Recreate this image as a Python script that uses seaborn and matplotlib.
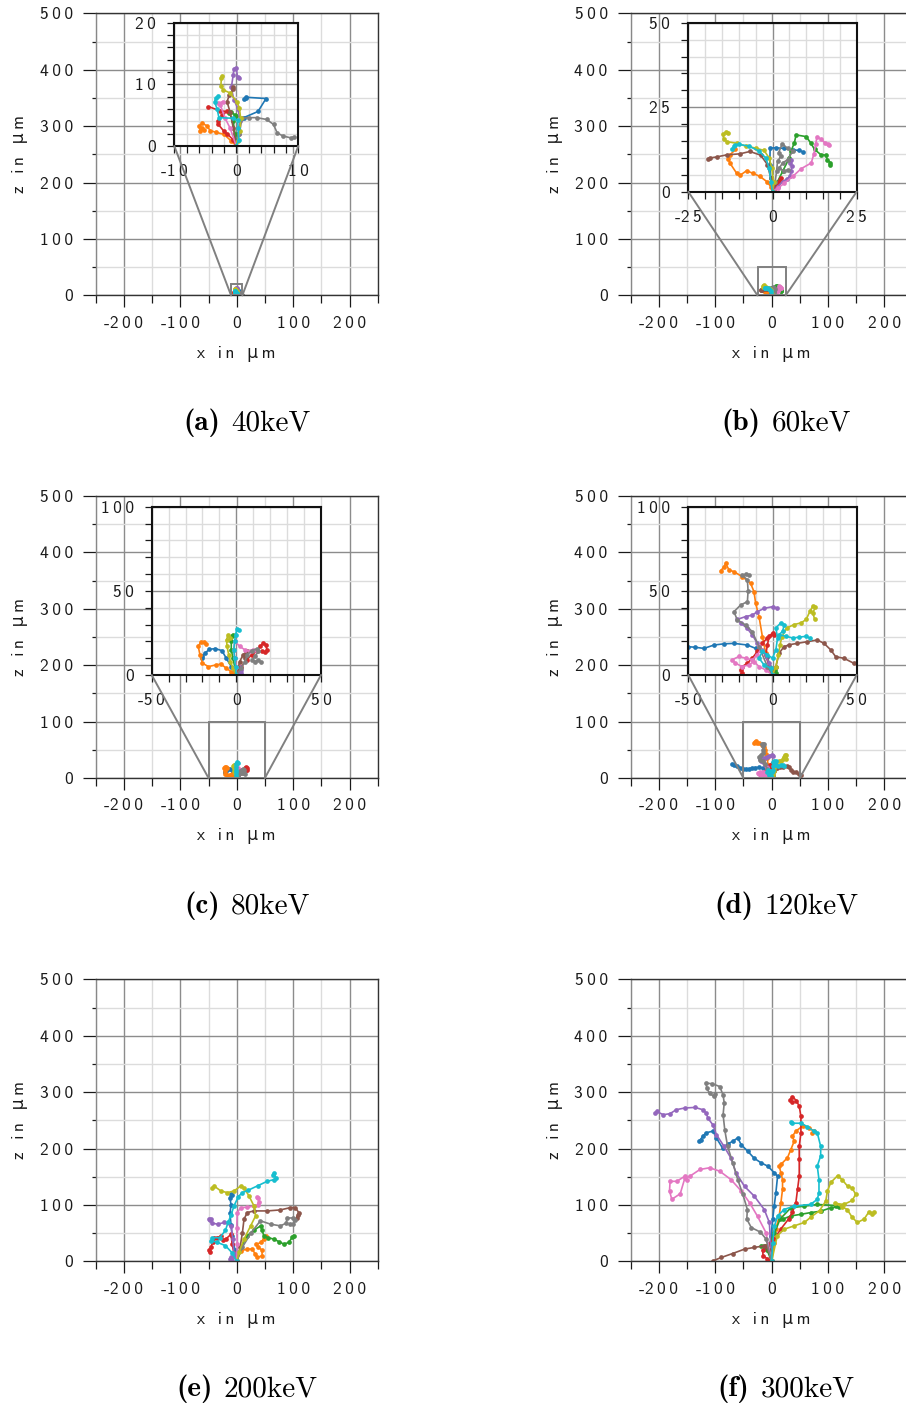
import pandas as pd
import seaborn as sns
import matplotlib.pyplot as plt
from matplotlib.patches import Rectangle, ConnectionPatch
from matplotlib.ticker import MultipleLocator, FuncFormatter
from matplotlib.offsetbox import TextArea, HPacker, AnnotationBbox

# track order = tab10 order: blue, orange, green, red, purple, brown, pink, gray, olive, cyan
track_names = ['blue', 'orange', 'green', 'red', 'purple', 'brown', 'pink', 'gray', 'olive', 'cyan']

tracks_40 = [
    [(0, 0), (0.3, 2), (0.8, 4.3), (1.2, 4.6), (3.5, 5.6), (4.8, 7.7), (1.6, 7.9), (1.3, 7.6), (1.5, 7.8)],
    [(0, 0), (-0.8, 0.8), (-2.0, 1.9), (-3.2, 2.2), (-4.2, 2.5), (-4.8, 3.3), (-5.5, 3.7), (-6.0, 3.2), (-5.8, 2.5), (-5.2, 2.6), (-5.6, 3.0)],
    [(0, 0), (-0.2, 2), (-0.5, 4), (-1.1, 5.3), (-0.8, 5.5), (-0.2, 5.0), (0, 4.8)],
    [(0, 0), (-0.5, 1), (-1.5, 2), (-2.0, 2.4), (-2.9, 3.5), (-3.0, 4.0), (-2.3, 5.0), (-1.5, 5.6), (-2.6, 5.7), (-4.5, 6.4)],
    [(0, 0), (0.4, 2), (0.6, 4), (0.3, 6), (-0.4, 7.5), (-0.8, 9.5), (-0.5, 11.5), (-0.4, 12.5), (0, 12.7), (0.2, 11.2), (0.4, 11.0)],
    [(0, 0), (-0.5, 3), (-1, 5.5), (-1.5, 7.2), (-1.1, 8.3), (-0.5, 9.2), (-0.6, 9.5)],
    [(0, 0), (-1, 2.9), (-1.8, 4.5), (-2.6, 6.7), (-2.1, 7.2), (-2.9, 7.0)],
    [(0, 0), (0.5, 2), (0.9, 4.5), (2, 4.6), (3.3, 4.6), (4.9, 4.3), (6.0, 3.5), (6.6, 2.1), (7.6, 1.6), (8.9, 1.3), (9.3, 1.5)],
    [(0, 0), (0.2, 0.8), (0.6, 2.4), (0.7, 4.5), (0.5, 6.2), (0.05, 7.2), (-1.0, 8.6), (-2.1, 9.1), (-2.5, 9.7), (-2.4, 11.0), (-2.3, 11.4)],
    [(0, 0), (0.4, 1), (0.3, 3), (0.2, 4.2), (-0.6, 4.5), (-2.8, 4.6), (-3.1, 6), (-3.5, 7.2), (-3.3, 7.8), (-3.0, 8.1)],
]

tracks_60 = [
    [(0, 0), (-0.5, 4), (-0.8, 8), (-0.7, 12.9), (1, 13), (3.5, 12.8), (6, 12.4), (8, 12.2), (9, 11.8)],
    [(0, 0), (-0.5, 1.5), (-1.7, 3), (-3.7, 4.5), (-5.7, 5.4), (-7.7, 6.2), (-9.7, 4.8), (-10.6, 5.4), (-12.6, 8.4), (-13.1, 9.6), (-12.5, 11), (-11, 12.5)],
    [(0, 0), (1.5, 3), (3, 6), (5, 10), (5.5, 12), (6.5, 14.5), (7, 16.8), (10, 16.3), (11.3, 14.5), (12.5, 12.5), (14.3, 11), (15.8, 10.8), (16.3, 9.5), (17.2, 8.5), (17, 8)],
    [(0, 0), (0.8, 1.2), (1.5, 2.5), (2.2, 3.4), (2.5, 4.0)],
    [(0, 0), (1.5, 1.5), (3, 3), (4.3, 3.8), (5.2, 4.5), (5.5, 6), (5.7, 7.5), (5.3, 8.5), (5.5, 9.5)],
    [(0, 0), (-0.5, 4), (-1.5, 8), (-3.5, 10.8), (-6.7, 11.9), (-9.7, 11.2), (-13.6, 10.9), (-16.5, 10.3), (-18.5, 10), (-19.2, 9.6)],
    [(0, 0), (1.5, 1), (3.5, 2.5), (6, 4.5), (8.5, 6.8), (11.5, 8.5), (12.3, 11.2), (12.8, 14), (13.2, 16.2), (14.5, 15.5), (15.5, 14.5), (16.5, 14), (16.8, 13.7)],
    [(0, 0), (0.8, 3), (1.2, 6), (1.5, 9), (2.5, 10.5), (1.8, 11.5), (2.9, 14.2), (4.5, 12.8), (6, 12), (4.5, 9.5), (3, 8.5), (2, 7), (3.5, 6), (4.5, 6.5)],
    [(0, 0), (0.3, 3), (-0.2, 7), (-1, 10), (-2.5, 12.2), (-5, 12.9), (-8, 13.5), (-10.5, 14.3), (-13.5, 14.8), (-14.5, 15.5), (-14.6, 17), (-13.8, 17.7), (-13.2, 17.5)],
    [(0, 0), (-0.5, 3), (-1, 7), (-2, 10), (-4, 12), (-7, 13.5), (-10, 14), (-11.5, 13.5), (-12, 12.5), (-11, 13.8)],
]

tracks_80 = [
    [(0, 0), (-3, 5), (-6, 10), (-8.5, 14.5), (-12.6, 15.7), (-16, 15.2), (-18.5, 13), (-20.2, 11), (-20.5, 10)],
    [(0, 0), (-3, 2), (-6, 4), (-9, 6.5), (-12, 6), (-16.5, 5), (-20, 7), (-21.5, 12), (-22.5, 17), (-21, 19.5), (-19, 19.5), (-18, 18.3)],
    [(0, 0), (-1, 5), (-2, 10), (-3, 15), (-3, 20), (-2.5, 23), (-2, 24)],
    [(0, 0), (3, 5), (6, 9), (9, 12), (12, 14), (14, 17), (16, 19), (17.5, 18), (18, 15), (17, 13.5), (15, 14)],
    [(0, 0), (1.5, 2), (2.5, 1), (3, 3), (2, 5)],
    [(0, 0), (1, 4), (2, 8), (4, 12), (6, 14), (5, 10)],
    [(0, 0), (0, 5), (-1, 10), (-1.5, 15), (-1, 20), (2, 17), (5, 15), (8, 14), (10, 15), (12, 14.5)],
    [(0, 0), (3, 4), (5, 8), (6.5, 12), (9, 14.5), (12, 15.5), (13, 14), (11, 11), (9.5, 9), (11, 8), (13, 9), (14.5, 7.5)],
    [(0, 0), (-2, 4), (-3.5, 8), (-4.5, 12), (-5.5, 17), (-5.8, 21), (-5, 23.5), (-3.5, 22)],
    [(0, 0), (-0.5, 5), (-1, 10), (-1.5, 15), (-1, 20), (-0.5, 24), (0.5, 27.5), (1.5, 26.5)],
]

tracks_120 = [
    [(0, 0), (-1.5, 5), (-3, 10.9), (-6, 14), (-10, 15.8), (-14.9, 17.8), (-22.9, 18.8), (-29, 18.5), (-34.8, 17.8), (-40.7, 15.8), (-46, 16.5), (-50, 16.8), (-56, 17.5), (-62, 20.5), (-67, 23), (-70, 24)],
    [(0, 0), (-1.1, 3), (-4, 12.9), (-6, 22.8), (-8, 34.7), (-10, 42.6), (-11, 49.5), (-13, 54.5), (-17.9, 58.4), (-22.9, 61.4), (-25.8, 62.4), (-27.8, 66.3), (-29, 64), (-30.8, 61.9)],
    [(0, 0), (1, 2), (2, 1), (1.5, 3)],
    [(0, 0), (-2, 5), (-4, 12), (-3, 18), (-2, 23), (0, 25), (1, 24), (-3, 22), (-6, 19), (-9, 14), (-12, 10), (-15, 7), (-18, 5), (-19, 3), (-18, 1), (-19, 0)],
    [(0, 0), (-2, 6.9), (-6, 14.9), (-9, 18.8), (-12, 23.8), (-15, 27.7), (-19, 31), (-21, 33), (-16, 34.7), (-12, 35.6), (-9, 37.6), (-5, 39.6), (0, 40.6), (2.9, 39.6)],
    [(0, 0), (2, 5), (3.9, 12.9), (6.8, 16.8), (10, 18), (14.8, 18.8), (20.7, 19.8), (26.6, 20.8), (30.6, 18.8), (34.6, 14.9), (37.5, 10.9), (42.5, 9.9), (48.4, 6.9), (52, 5.5)],
    [(0, 0), (-4, 3), (-8, 5), (-11, 8), (-14, 6), (-18, 5), (-22, 7), (-24, 9), (-20, 11), (-16, 10), (-12, 9), (-9, 12), (-7, 15), (-8, 17)],
    [(0, 0), (-3, 5), (-8, 16.8), (-12, 25.7), (-15.9, 29.7), (-20.9, 32.7), (-22.9, 37.6), (-18.9, 41.6), (-14.9, 43.6), (-14.5, 50), (-14.9, 56.4), (-17.9, 59.4), (-16, 59.8), (-14, 59.4)],
    [(0, 0), (2, 5), (3.5, 12), (4.5, 18), (5.5, 22.5), (8.4, 28), (13, 30), (17, 31), (20, 33), (22.3, 38), (24, 41), (25.5, 40.5), (24, 37), (25, 33)],
    [(0, 0), (-1, 4), (-5, 6), (-8, 10), (-6, 14), (-3, 12), (0, 10), (2, 15), (3, 22), (2, 28), (5, 31), (7, 30), (6, 26), (4, 24), (8, 23), (12, 22), (16, 22.5), (20, 23), (22, 22)],
]

tracks_200 = [
    [(0, 0), (-3, 20), (-8, 45), (-10, 65), (-12, 85), (-10, 100), (-12, 113), (-10, 119), (-8, 118)],
    [(0, 0), (7, 18.8), (18.8, 21.8), (28, 22), (32, 14), (36.5, 7), (45, 10), (45, 20), (38, 25), (35, 30), (42.4, 33.6), (48, 40), (51.2, 45.3)],
    [(0, 0), (8, 25), (18, 45), (30, 55), (42.4, 63), (45, 55), (48.2, 45.3), (56, 42), (65.9, 39.5), (75, 35), (83.5, 30.6), (92.4, 33.6), (98.2, 42.4), (101, 45.3)],
    [(0, 0), (-5, 15), (-8, 30), (-10, 48), (-19, 40), (-24, 38), (-28, 45), (-35, 42), (-40, 42), (-42, 35), (-46, 25), (-49, 20), (-47, 17)],
    [(0, 0), (-4, 10), (-10, 8), (-12, 5), (-8, 2), (-5, 15), (-7, 40), (-10, 63), (-22, 69), (-34, 66), (-44, 68), (-48, 73), (-49, 76), (-46, 76)],
    [(0, 0), (6, 25), (10, 50), (13, 75), (18.8, 86.6), (30.6, 89.5), (54, 89.5), (77.6, 91.3), (95.3, 95.4), (104, 95.4), (110, 86.6), (107, 77.7), (108, 82)],
    [(0, 0), (1, 30), (0, 60), (1, 86.6), (7, 95.4), (18.8, 96), (30.6, 98), (37, 100), (39.4, 106), (38, 113), (36, 114)],
    [(0, 0), (10, 25), (25, 50), (42, 72), (60, 66), (77.6, 63), (88, 68), (89, 77), (100, 77), (104, 73), (100, 66), (95, 67)],
    [(0, 0), (4, 16), (13, 39.5), (24.7, 63), (33.5, 80.7), (30.6, 98.3), (21.8, 116), (12.9, 130.7), (7, 133.7), (-4.7, 124.9), (-16.5, 121.9), (-28.2, 124.9), (-40, 133.7), (-43, 131)],
    [(0, 0), (-8, 15), (-20, 28), (-35, 34), (-45, 37), (-44, 42), (-30, 42), (-20, 55), (-15, 70), (-10, 82), (-5, 98), (3, 115), (10, 122), (20, 126), (37, 134), (54, 142), (66, 145), (69, 148), (66, 157), (65, 153)],
]

tracks_300 = [
    [(0, 0), (-1, 45), (2, 75), (4.6, 98), (7.6, 122), (10.6, 151), (5, 157), (-7, 169), (-19, 175), (-31, 183), (-42, 195), (-54, 207), (-60, 219), (-69, 213), (-78, 208), (-87, 201), (-98, 219), (-104, 231), (-116, 228), (-122, 222), (-128, 213), (-126, 215)],
    [(0, 0), (4.6, 33.5), (7.6, 57), (13.5, 80.6), (16.5, 104), (19.4, 128), (19.4, 145), (16.5, 157), (13.5, 169), (16.5, 172), (28, 183.5), (34, 198), (40, 213), (37, 222), (43, 231), (55, 240), (66, 236), (76, 231), (72, 228)],
    [(0, 0), (-8, 20), (-18, 28), (-5, 30), (5, 50), (15, 75), (34, 95), (58, 98), (81, 101), (114, 99), (120, 97), (105, 95), (87, 89), (69, 86.5), (52, 83.5), (34, 80.6), (20, 75)],
    [(0, 0), (-8, 5), (-15, 10), (-16, 20), (-8, 28), (5, 40), (16, 57), (30, 75), (37, 87), (43, 104), (46, 128), (49, 151), (49, 181), (49, 204), (52, 228), (52, 257), (49, 275), (44, 285), (37, 292), (33, 287), (36, 283)],
    [(0, 0), (-4, 69), (-13, 92), (-31, 116), (-48, 133), (-63, 157), (-72, 183), (-85, 205), (-98, 225), (-104, 242), (-113, 254), (-116, 263), (-122, 269), (-136, 273), (-154, 272), (-169, 269), (-180, 262), (-192, 260), (-204, 266), (-206, 264)],
    [(0, 0), (-5, 20), (-13, 27.6), (-31, 24.7), (-48, 21.8), (-69, 14), (-89, 7), (-104, 1)],
    [(0, 0), (-10, 51), (-25, 80), (-39, 104), (-54, 125), (-72, 145), (-92, 160), (-110, 166), (-127, 163), (-145, 151), (-154, 147), (-162, 120), (-177, 110), (-181, 125), (-180, 142), (-168, 142), (-154, 151), (-150, 145)],
    [(0, 0), (-10, 40), (-20, 52), (-36, 60), (-44, 75), (-43, 92), (-51, 119), (-60, 145), (-69, 175), (-78, 204), (-83, 233), (-86, 260), (-84, 281), (-86, 295), (-92, 310), (-105, 315), (-116, 316), (-115, 307), (-110, 298), (-103, 293), (-100, 296)],
    [(0, 0), (10, 45), (22, 57), (40, 63), (58, 69), (69, 78), (85, 90), (96, 107), (99, 125), (105, 140), (117, 152), (125, 145), (135, 133), (143, 130), (149, 119), (143, 108), (128, 101), (112, 103), (125, 97), (134, 92), (143, 78), (152, 69), (164, 75), (172, 87), (181, 87), (178, 84)],
    [(0, 0), (2, 33), (5, 63), (11, 81), (22, 92), (40, 98), (69, 101), (81, 110), (84, 122), (84, 145), (81, 169), (87, 187), (87, 204), (81, 228), (75, 231), (63, 239), (52, 245), (37, 245), (35, 247)],
]

panel_letters = ['a', 'b', 'c', 'd', 'e', 'f']
energies = ['40keV', '60keV', '80keV', '120keV', '200keV', '300keV']
zoom_half = [10, 25, 50, 50, None, None]   # inset half width (µm), None = no inset

sns.set_theme(style='ticks')
plt.rcParams['font.family'] = ['DejaVu Sans']
plt.rcParams['axes.unicode_minus'] = False

# Computer Modern Sans for digits/letters, DejaVu for the greek mu and thin spaces
SANS = ['cmss10', 'DejaVu Sans']
FS = 12.5
W, H = 906, 1409
fig = plt.figure(figsize=(W / 100, H / 100), dpi=100)
palette = sns.color_palette('tab10', 10)

MAJ = '#8c8c8c'
MIN = '#dcdcdc'
INK = '#1a1a1a'


def box(left, top, w, h):
    return [left / W, 1 - (top + h) / H, w / W, h / H]


def spaced(text):
    # letter-spaced like the original labels, hyphen kept close to the digits
    out = text[0]
    for prev, ch in zip(text, text[1:]):
        out += ch if prev == '-' else '\u2009' + ch
    return out


def tick_fmt(v, pos):
    if abs(v) < 1e-9:
        v = 0
    return spaced(f'{v:g}')


def style_ticks(a):
    for lab in a.get_xticklabels() + a.get_yticklabels():
        lab.set_family(SANS)
        lab.set_fontsize(FS)


def draw_tracks(ax, tracks):
    rows = []
    for name, tr in zip(track_names, tracks):
        for step, (x, z) in enumerate(tr):
            rows.append((name, step, x, z))
    df = pd.DataFrame(rows, columns=['track', 'step', 'x', 'z'])
    sns.lineplot(data=df, x='x', y='z', hue='track', hue_order=track_names,
                 palette=palette, sort=False, estimator=None, marker='o',
                 markersize=3.4, markeredgewidth=0, linewidth=1.2,
                 legend=False, ax=ax)
    ax.set_xlabel('')
    ax.set_ylabel('')


all_tracks = [tracks_40, tracks_60, tracks_80, tracks_120, tracks_200, tracks_300]
col_left = [95.7, 630.6]
row_top = [13.4, 496.0, 979.4]
inset_boxes = [(174.3, 22.7, 124, 123.3), (688.3, 22.7, 168.4, 169),
               (151.7, 506.7, 169.3, 168.3), (688.3, 506.7, 168.4, 168.3)]
cap_x = [247, 786]
cap_y = [423, 906, 1389]
S = 282

for k in range(6):
    r, c = divmod(k, 2)
    ax = fig.add_axes(box(col_left[c], row_top[r], S, S))
    draw_tracks(ax, all_tracks[k])
    ax.set_xlim(-250, 250)
    ax.set_ylim(0, 500)
    ax.xaxis.set_major_locator(MultipleLocator(100))
    ax.xaxis.set_minor_locator(MultipleLocator(50))
    ax.yaxis.set_major_locator(MultipleLocator(100))
    ax.yaxis.set_minor_locator(MultipleLocator(50))
    ax.xaxis.set_major_formatter(FuncFormatter(tick_fmt))
    ax.yaxis.set_major_formatter(FuncFormatter(tick_fmt))
    ax.grid(which='major', color=MAJ, lw=1.0)
    ax.grid(which='minor', color=MIN, lw=1.0)
    ax.set_axisbelow(True)
    ax.tick_params(axis='x', which='major', length=8.5, width=0.9, pad=6, colors=INK)
    ax.tick_params(axis='x', which='minor', length=6, width=0.9, colors=INK)
    ax.tick_params(axis='y', which='major', length=9.5, width=0.9, pad=7, colors=INK)
    ax.tick_params(axis='y', which='minor', length=3, width=0.9, colors=INK)
    style_ticks(ax)
    for side in ['top', 'right', 'bottom']:
        ax.spines[side].set_color('#333333')
        ax.spines[side].set_linewidth(1.0)
    ax.spines['left'].set_color('#888888')
    ax.spines['left'].set_linewidth(1.0)
    ax.set_xlabel(spaced('x in \u03bcm'), fontsize=FS, family=SANS, labelpad=11, color=INK)
    ax.set_ylabel(spaced('z in \u03bcm'), fontsize=FS, family=SANS, labelpad=8, color=INK)

    half = zoom_half[k]
    if half is not None:
        ax.add_patch(Rectangle((-half, 0), 2 * half, 2 * half, fill=False,
                               edgecolor='#808080', lw=1.4, zorder=5))
        ins = fig.add_axes(box(*inset_boxes[k]))
        draw_tracks(ins, all_tracks[k])
        ins.set_xlim(-half, half)
        ins.set_ylim(0, 2 * half)
        ins.xaxis.set_major_locator(MultipleLocator(half))
        ins.yaxis.set_major_locator(MultipleLocator(half))
        ins.xaxis.set_minor_locator(MultipleLocator(half / 5))
        ins.yaxis.set_minor_locator(MultipleLocator(half / 5))
        ins.xaxis.set_major_formatter(FuncFormatter(tick_fmt))
        ins.yaxis.set_major_formatter(FuncFormatter(tick_fmt))
        ins.grid(which='major', color=MAJ, lw=1.0)
        ins.grid(which='minor', color=MIN, lw=1.0)
        ins.set_axisbelow(True)
        ins.set_facecolor('white')
        ins.tick_params(which='both', length=5, width=0.9, colors=INK)
        ins.tick_params(which='major', pad=8)
        style_ticks(ins)
        for sp in ins.spines.values():
            sp.set_color('#111111')
            sp.set_linewidth(1.5)
        for xc in (-half, half):
            con = ConnectionPatch(xyA=(xc, 0), coordsA=ins.transData,
                                  xyB=(xc, 0), coordsB=ax.transData,
                                  color='#808080', lw=1.4)
            fig.add_artist(con)

    # caption: bold panel letter + roman energy, Computer Modern
    cap = HPacker(children=[
        TextArea('(' + panel_letters[k] + ')', textprops=dict(family='cmb10', size=21, color='black')),
        TextArea(energies[k], textprops=dict(family='cmr10', size=21, color='black')),
    ], sep=8, pad=0, align='baseline')
    fig.add_artist(AnnotationBbox(cap, (cap_x[c] / W, 1 - cap_y[r] / H),
                                  xycoords='figure fraction', frameon=False,
                                  box_alignment=(0.5, 0.5)))

fig.savefig('out.png', dpi=100)
